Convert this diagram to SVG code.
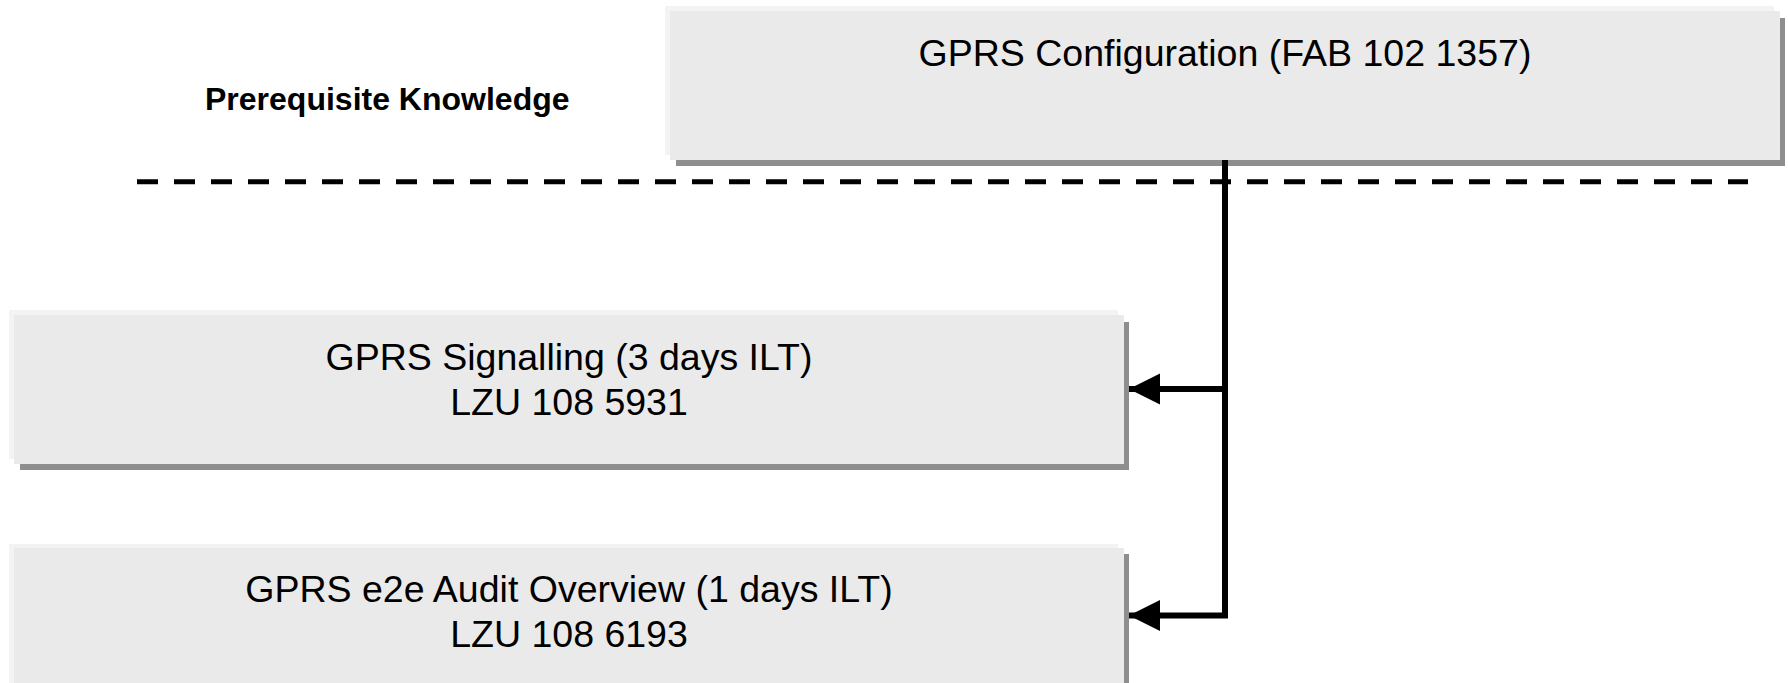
<svg xmlns="http://www.w3.org/2000/svg" width="1788" height="683" viewBox="0 0 1788 683">
<defs>
<style>
.hl{fill:#f3f3f3}
.sh{fill:#8e8e8e}
.bx{fill:#eaeaea}
.t{font-family:"Liberation Sans",Arial,sans-serif;font-size:37.5px;fill:#000;text-anchor:middle}
.b{font-family:"Liberation Sans",Arial,sans-serif;font-size:32px;font-weight:bold;fill:#000}
.conn{fill:none;stroke:#000;stroke-width:6;stroke-linejoin:miter}
.dash{fill:none;stroke:#000;stroke-width:5;stroke-dasharray:21 16}
</style>
<marker id="arr" markerUnits="userSpaceOnUse" markerWidth="32" markerHeight="32" refX="31" refY="15.5" orient="auto">
<path d="M0,0 L31,15.5 L0,31 Z" fill="#000"/>
</marker>
</defs>
<rect width="1788" height="683" fill="#fff"/>
<g id="label-prereq">
<text class="b" x="205" y="110">Prerequisite Knowledge</text>
</g>
<g id="separator">
<line class="dash" x1="137" y1="181.8" x2="1748" y2="181.8"/>
</g>
<g id="node-config">
<rect class="hl" x="665" y="6" width="1109" height="149"/>
<rect class="sh" x="676" y="18" width="1109" height="148"/>
<rect class="bx" x="670" y="11" width="1110" height="149"/>
<text class="t" x="1225" y="66">GPRS Configuration (FAB 102 1357)</text>
</g>
<g id="node-signalling">
<rect class="hl" x="9" y="310" width="1109" height="149"/>
<rect class="sh" x="20" y="322" width="1109" height="148"/>
<rect class="bx" x="14" y="315" width="1110" height="149"/>
<text class="t" x="569" y="370">GPRS Signalling (3 days ILT)</text>
<text class="t" x="569" y="415">LZU 108 5931</text>
</g>
<g id="node-audit">
<rect class="hl" x="9" y="544" width="1109" height="149"/>
<rect class="sh" x="20" y="554" width="1109" height="148"/>
<rect class="bx" x="14" y="548" width="1110" height="149"/>
<text class="t" x="569" y="602">GPRS e2e Audit Overview (1 days ILT)</text>
<text class="t" x="569" y="647">LZU 108 6193</text>
</g>
<g id="connectors">
<path class="conn" d="M1225,160 V389 H1129" marker-end="url(#arr)"/>
<path class="conn" d="M1225,389 V615.5 H1129" marker-end="url(#arr)"/>
</g>
</svg>
